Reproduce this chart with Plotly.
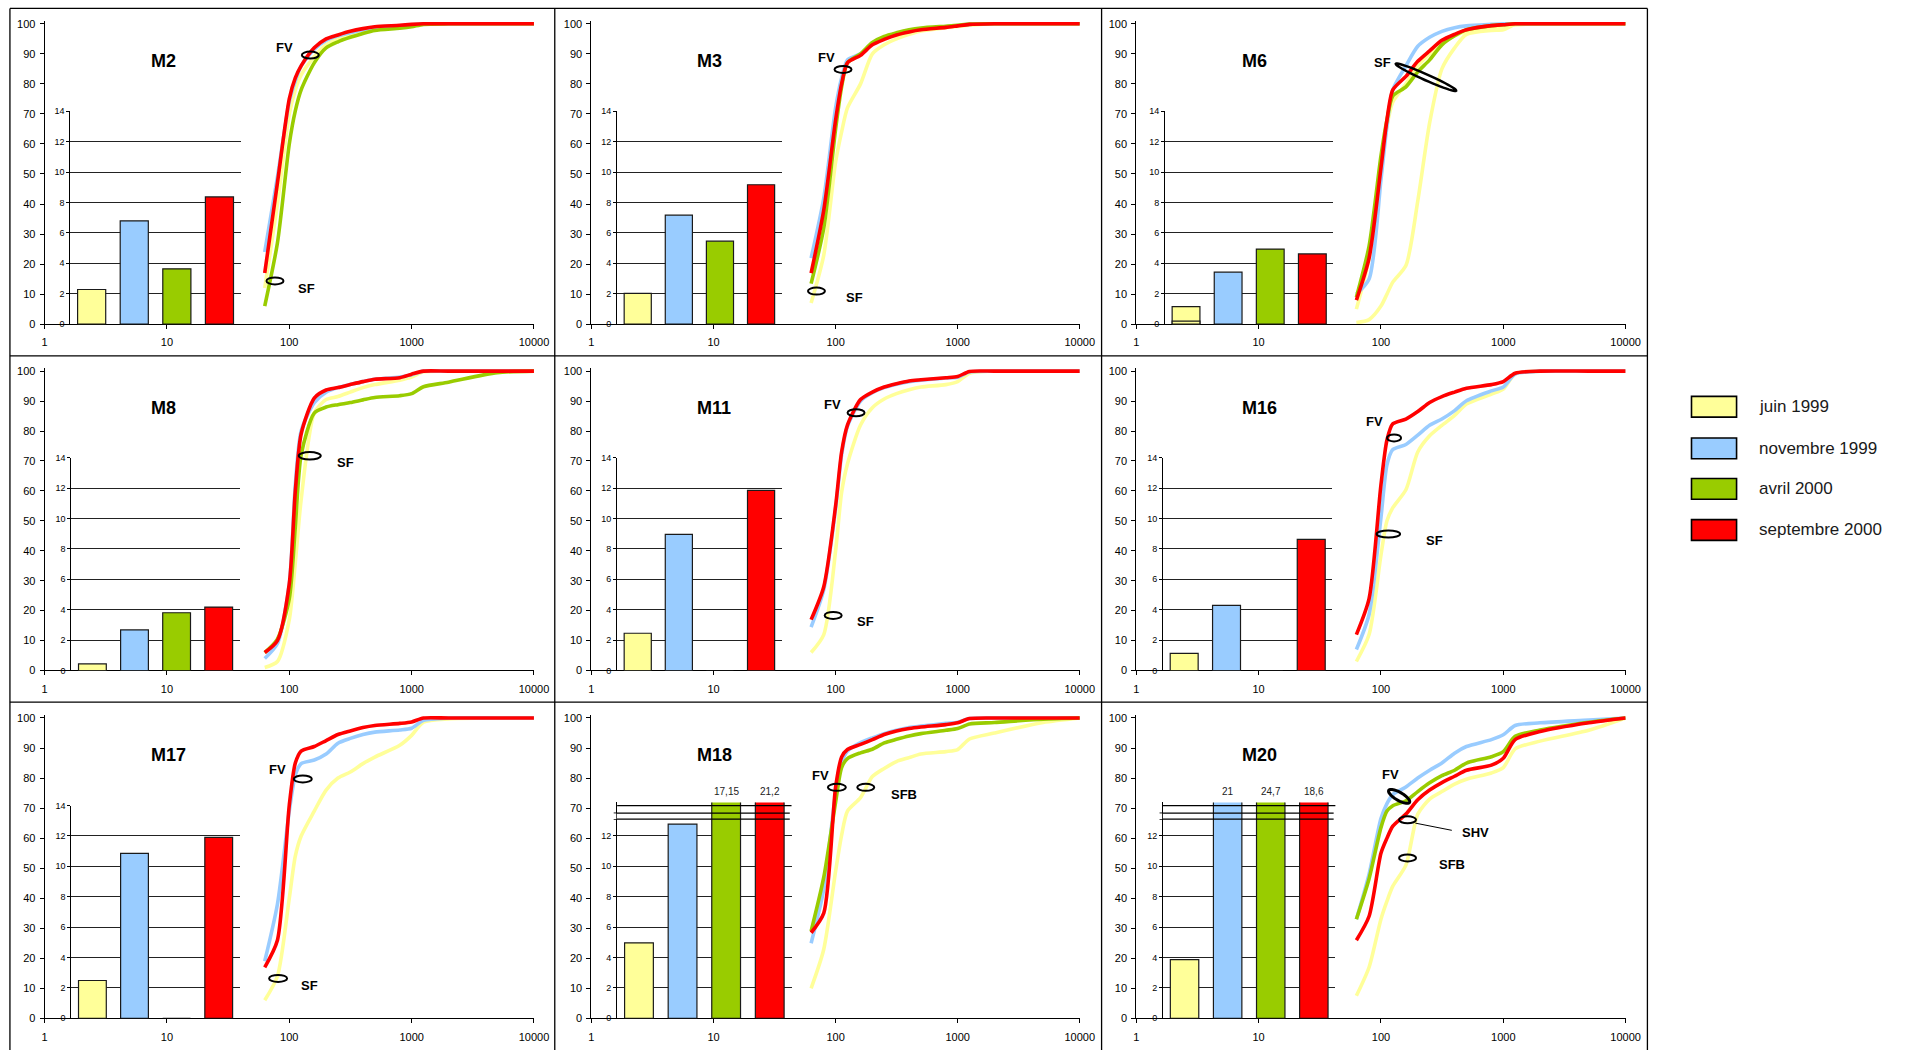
import math
import plotly.graph_objects as go

# geometry reference frame = the 1917x1056 page
W, H = 1917, 1056
FONT = "Liberation Sans, Arial, sans-serif"

# ---------------- data ----------------
SIZES = [63, 80, 100, 112, 125, 160, 200, 250, 315, 400, 500, 800, 1000, 1250, 2000, 5000, 10000]
SERIES = ["juin 1999", "novembre 1999", "avril 2000", "septembre 2000"]
COLORS = ["#FFFF99", "#99CCFF", "#99CC00", "#FF0000"]
X_TICKS = [1, 10, 100, 1000, 10000]
X_TICKTEXT = ["1", "10", "100", "1000", "10000"]
Y_TICKS = [0, 10, 20, 30, 40, 50, 60, 70, 80, 90, 100]
INSET_TICKS = [0, 2, 4, 6, 8, 10, 12, 14]
INSET_TICKS_BROKEN = [0, 2, 4, 6, 8, 10, 12]

# cumulative curves (% passing) at SIZES
M2_juin = [12, 40, 70, 78, 83, 89, 93, 95, 96.5, 97.5, 98.3, 99, 99.5, 100, 100, 100, 100]
M2_nov = [24, 49, 74, 81, 86, 91.5, 94.5, 96, 97, 98, 98.8, 99.3, 99.6, 100, 100, 100, 100]
M2_avr = [6, 27, 60, 71, 78, 87, 92, 94, 95.5, 96.8, 97.8, 98.5, 99, 99.8, 100, 100, 100]
M2_sep = [17, 47, 75, 82, 86, 92, 95, 96.3, 97.5, 98.4, 99, 99.5, 99.8, 100, 100, 100, 100]

M3_juin = [7, 23, 54, 64, 72, 80, 90, 93, 95, 96.5, 97.6, 98.7, 99.1, 99.5, 100, 100, 100]
M3_nov = [22, 42, 72, 82, 88, 90, 93.5, 95.3, 96.6, 97.5, 98.2, 99, 99.4, 99.8, 100, 100, 100]
M3_avr = [13.5, 32, 65, 79, 87, 90, 93.8, 95.8, 97, 98, 98.6, 99.2, 99.5, 99.9, 100, 100, 100]
M3_sep = [17, 38, 68, 80, 87, 89.5, 93, 94.8, 96.3, 97.3, 98, 98.8, 99.3, 99.8, 100, 100, 100]

M6_juin = [5, 22, 52, 66, 74, 80, 86, 90, 93.5, 96, 97.5, 98.5, 99, 99.7, 100, 100, 100]
M6_juin_b = [0.5, 1.5, 6, 10, 14, 19.5, 41, 67, 85, 92, 96.5, 97.8, 98, 99.8, 100, 100, 100]
M6_nov = [10, 15, 48, 66, 78, 86, 92.5, 95.5, 97.5, 98.7, 99.3, 99.8, 100, 100, 100, 100, 100]
M6_avr = [9, 26, 56, 68, 76, 79, 84, 88, 93, 96, 98, 99.4, 99.7, 100, 100, 100, 100]
M6_sep = [8, 22, 52, 68, 78, 82.5, 87.5, 91, 94.5, 96.5, 98, 99.4, 99.7, 100, 100, 100, 100]

M8_juin = [1, 3, 17, 36, 57, 86, 90.5, 91.5, 93, 94.5, 95.5, 97, 98, 99.8, 100, 100, 100]
M8_nov = [4, 9, 29, 62, 80, 89.5, 93, 94.5, 95.5, 96.5, 97.3, 98, 98.8, 100, 100, 100, 100]
M8_avr = [6, 10.5, 24, 48, 72, 86, 88, 88.8, 89.5, 90.4, 91.2, 91.8, 92.5, 94.8, 96.3, 99.5, 100]
M8_sep = [6, 10, 29, 60, 79, 91, 93.7, 94.5, 95.5, 96.5, 97.3, 97.8, 99, 100, 100, 100, 100]

M11_juin = [6, 12, 40, 59.5, 69, 82, 87.8, 90.7, 92.5, 93.8, 94.7, 95.5, 96.5, 99.3, 100, 100, 100]
M11_nov = [14.5, 27, 54, 72, 81.5, 90, 92.8, 94.5, 95.6, 96.5, 97, 97.7, 98, 99.7, 100, 100, 100]
M11_sep = [17, 28, 55, 73, 82, 90.5, 93, 94.7, 95.8, 96.7, 97.1, 97.8, 98.2, 99.9, 100, 100, 100]

M16_juin = [3, 12, 38.5, 50, 54.4, 60.4, 73, 78.4, 81.9, 85.2, 89, 92.3, 94, 99.1, 100, 100, 100]
M16_nov = [7, 18.7, 51, 68.7, 73.8, 75.5, 78.6, 81.9, 84, 86.8, 90.1, 93.4, 94.7, 99, 100, 100, 100]
M16_sep = [12, 24, 62, 77, 82.4, 84, 86.5, 89.5, 91.5, 93, 94.3, 95.5, 96.5, 99.3, 100, 100, 100]

M17_juin = [6, 14, 40, 54, 60.7, 69, 76, 80, 82, 84.8, 87, 90.9, 94.2, 98.6, 99.7, 100, 100]
M17_nov = [19, 38, 69, 81, 84.8, 86, 88, 91.6, 93.2, 94.5, 95.3, 96, 96.6, 99.2, 100, 100, 100]
M17_sep = [17, 26, 71, 85, 89, 90.5, 92.5, 94.5, 95.7, 96.8, 97.5, 98.2, 98.7, 100, 100, 100, 100]

M18_juin = [10, 23, 49, 61, 69, 73.5, 80.5, 83.2, 85.5, 86.8, 88, 88.8, 89.5, 93, 95, 98.5, 100]
M18_nov = [25, 43, 75, 85, 89, 91.8, 93.4, 94.8, 95.9, 96.8, 97.3, 98.2, 98.6, 99.8, 100, 100, 100]
M18_avr = [29, 47, 72, 83.5, 86.5, 88.4, 89.6, 91.7, 92.9, 94, 94.8, 95.9, 96.5, 98, 98.5, 99.6, 100]
M18_sep = [28.5, 35, 77, 87, 89.5, 91.2, 92.8, 94.5, 95.7, 96.5, 97, 97.8, 98.4, 99.8, 100, 100, 100]

M20_juin = [7.5, 17, 33, 39, 44, 51, 68, 73, 75.5, 78, 79.6, 81.7, 83.5, 89.7, 92.3, 95.9, 100]
M20_nov = [33, 48, 66.5, 71.5, 74.5, 77, 80, 82.6, 85, 88.3, 90.5, 92.8, 94.4, 97.5, 98.4, 99.3, 100]
M20_avr = [33, 46.5, 63.5, 69, 70.8, 72.4, 75.5, 78.4, 80.8, 82.6, 85, 87.1, 88.8, 93.9, 96, 98.6, 100]
M20_sep = [26, 34, 55, 60, 64, 68, 72.8, 76, 78.5, 80.6, 82.6, 84.3, 86.6, 92.8, 95.5, 98.4, 100]

# inset bar values (juin, novembre, avril, septembre)
M2_bars = [2.28, 6.8, 3.64, 8.37]
M3_bars = [2.02, 7.17, 5.46, 9.17]
M6_bars = [1.15, 3.42, 4.94, 4.62]
M6_bars_b = [0.2]
M8_bars = [0.43, 2.67, 3.8, 4.17]
M11_bars = [2.45, 8.95, 0, 11.85]
M16_bars = [1.13, 4.29, 0, 8.63]
M17_bars = [2.49, 10.85, 0, 11.9]
M18_bars = [4.97, 12.78, 17.15, 21.2]
M20_bars = [3.86, 21, 24.7, 18.6]

# ---------------- layout geometry (page pixels) ----------------
COL_X1 = [42, 594, 1144]      # pixel of x = 1
COL_X4 = [536, 1087, 1638]    # pixel of x = 10000
ROW_Y100 = [19, 370, 720.5]   # pixel of y = 100
ROW_Y0 = [322.5, 672.5, 1024] # pixel of y = 0
IPPU = 15.36                  # inset pixels per unit


def fx(px):
    return min(max(px / W, 0.0), 1.0)


def fy(py):
    return min(max(1 - py / H, 0.0), 1.0)


PANELS = [
    dict(name="M2", row=0, col=0, curves=[M2_juin, M2_nov, M2_avr, M2_sep], bars=M2_bars,
         inset=(26, 198), broken=False,
         labels=[("FV", 91, 92.2), ("SF", 139, 12)],
         ellipses=[(148.6, 89.6, 17, 7, 0, 2), (76.4, 14.4, 17, 7, 0, 2)]),
    dict(name="M3", row=0, col=1, curves=[M3_juin, M3_nov, M3_avr, M3_sep], bars=M3_bars,
         inset=(26, 192), broken=False,
         labels=[("FV", 84.7, 88.8), ("SF", 143.5, 8.8)],
         ellipses=[(115, 84.8, 17, 7, 0, 2), (69.7, 11, 17, 7, 0, 2)]),
    dict(name="M6", row=0, col=2, curves=[M6_juin, M6_nov, M6_avr, M6_sep], bars=M6_bars,
         extra_curves=[(0, M6_juin_b)], extra_bars=[(0, M6_bars_b)],
         inset=(29, 199), broken=False,
         labels=[("SF", 103.7, 87)],
         ellipses=[(233.5, 82.2, 66, 6, -24, 2.5)]),
    dict(name="M8", row=1, col=0, curves=[M8_juin, M8_nov, M8_avr, M8_sep], bars=M8_bars,
         inset=(27, 197), broken=False,
         labels=[("SF", 287, 69.5)],
         ellipses=[(147, 71.7, 22, 7.5, 0, 2)]),
    dict(name="M11", row=1, col=1, curves=[M11_juin, M11_nov, None, M11_sep], bars=M11_bars,
         inset=(26, 192), broken=False,
         labels=[("FV", 94, 88.7), ("SF", 175, 16.3)],
         ellipses=[(147, 86.1, 17, 7, 0, 2), (95.5, 18.4, 17, 7, 0, 2)]),
    dict(name="M16", row=1, col=2, curves=[M16_juin, M16_nov, None, M16_sep], bars=M16_bars,
         inset=(27, 198), broken=False,
         labels=[("FV", 87.9, 83.3), ("SF", 272, 43.5)],
         ellipses=[(128, 77.7, 14, 7, 0, 2), (115, 45.6, 23.5, 7, 0, 2)]),
    dict(name="M17", row=2, col=0, curves=[M17_juin, M17_nov, None, M17_sep], bars=M17_bars,
         inset=(27, 197), broken=False,
         labels=[("FV", 80, 82.9), ("SF", 147, 11)],
         ellipses=[(129, 79.7, 18, 7, 0, 2), (81, 13.3, 18, 7, 0, 2)]),
    dict(name="M18", row=2, col=1, curves=[M18_juin, M18_nov, M18_avr, M18_sep], bars=M18_bars,
         inset=(26, 202), broken=True,
         labels=[("FV", 75.9, 80.7), ("SFB", 363, 74.4)],
         ellipses=[(102.4, 76.9, 18, 7, 0, 2), (176.6, 76.9, 17, 7, 0, 2)]),
    dict(name="M20", row=2, col=2, curves=[M20_juin, M20_nov, M20_avr, M20_sep], bars=M20_bars,
         inset=(27, 201), broken=True,
         labels=[("FV", 120.8, 81.2), ("SHV", 596, 61.8), ("SFB", 379, 51.2)],
         ellipses=[(140.8, 73.9, 24, 8, -30, 3), (165, 66.1, 17, 7, 0, 2), (165, 53.4, 17, 7, 0, 2)],
         leader=[(191, 65), (379.5, 62.6)]),
]


def axname(letter, k):
    return f"{letter}axis" if k == 1 else f"{letter}axis{k}"


def axref(letter, k):
    return letter if k == 1 else f"{letter}{k}"


def fmt(v):
    return f"{v:g}".replace(".", ",")


layout = dict(
    autosize=True, margin=dict(l=0, r=0, t=0, b=0, pad=0),
    paper_bgcolor="white", plot_bgcolor="rgba(0,0,0,0)",
    showlegend=False, barmode="overlay",
    font=dict(family=FONT, color="black"),
)
traces = []
shapes = []
annotations = []

for i, p in enumerate(PANELS):
    r, c = p["row"], p["col"]
    mx, ix = 2 * i + 1, 2 * i + 2
    X1, X4 = COL_X1[c], COL_X4[c]
    Y100, Y0 = ROW_Y100[r], ROW_Y0[r]
    ppu = (Y0 - Y100) / 100.0
    mxr, myr = axref("x", mx), axref("y", mx)
    ixr, iyr = axref("x", ix), axref("y", ix)

    layout[axname("x", mx)] = dict(
        type="log", range=[0, 4], domain=[fx(X1), fx(X4)], anchor=myr,
        tickvals=X_TICKS, ticktext=X_TICKTEXT, showline=True, linecolor="black", linewidth=1,
        ticks="outside", ticklen=4, tickcolor="black", showgrid=False, zeroline=False,
        tickfont=dict(size=11, color="black", family=FONT), ticklabelstandoff=4, fixedrange=True)
    layout[axname("y", mx)] = dict(
        range=[0, 101], domain=[fy(Y0), fy(Y100 - ppu)], anchor=mxr,
        tickvals=Y_TICKS, showline=True, linecolor="black", linewidth=1,
        ticks="outside", ticklen=4, tickcolor="black", showgrid=False, zeroline=False,
        tickfont=dict(size=11, color="black", family=FONT), ticklabelstandoff=2, fixedrange=True)

    a, b = p["inset"]
    top = 14.2 if p["broken"] else 14
    layout[axname("x", ix)] = dict(
        type="category", categoryorder="array", categoryarray=SERIES, range=[-0.5, 3.5],
        domain=[fx(X1 + a), fx(X1 + b)], anchor=iyr, visible=False, fixedrange=True)
    layout[axname("y", ix)] = dict(
        range=[0, top], domain=[fy(Y0), fy(Y0 - top * IPPU)], anchor=ixr,
        tickvals=INSET_TICKS_BROKEN if p["broken"] else INSET_TICKS,
        showgrid=True, gridcolor="#222222", gridwidth=1, showline=True, linecolor="black",
        linewidth=1, ticks="outside", ticklen=3, tickcolor="black", zeroline=False,
        tickfont=dict(size=9, color="black", family=FONT), fixedrange=True)

    # inset bars
    traces.append(go.Bar(x=SERIES, y=p["bars"], xaxis=ixr, yaxis=iyr, width=0.66,
                         marker=dict(color=COLORS, line=dict(color="#1a1a1a", width=1.2)),
                         hoverinfo="skip"))
    for sidx, vals in p.get("extra_bars", []):
        traces.append(go.Bar(x=[SERIES[sidx]], y=vals, xaxis=ixr, yaxis=iyr, width=0.66,
                             marker=dict(color=COLORS[sidx], line=dict(color="#1a1a1a", width=1.2)),
                             hoverinfo="skip"))

    # curves
    curve_list = list(p.get("extra_curves", []))
    for sidx, vals in enumerate(p["curves"]):
        if vals is not None:
            curve_list.append((sidx, vals))
    for sidx, vals in curve_list:
        traces.append(go.Scatter(x=SIZES, y=vals, xaxis=mxr, yaxis=myr, mode="lines",
                                 line=dict(color=COLORS[sidx], width=3.6, shape="spline", smoothing=0.7),
                                 name=SERIES[sidx], hoverinfo="skip"))

    # broken-axis decoration
    if p["broken"]:
        for yv, xa, xb in [(14, 0.0, 1.0), (13.5, -0.02, 0.99), (13.1, -0.02, 0.99)]:
            shapes.append(dict(type="line", xref=f"{ixr} domain", yref=iyr, x0=xa, x1=xb, y0=yv, y1=yv,
                               line=dict(color="black", width=1.2), layer="above"))
        shapes.append(dict(type="rect", xref=f"{ixr} domain", yref=iyr, x0=-0.03, x1=-0.005,
                           y0=13.12, y1=13.48, fillcolor="white", line=dict(width=0), layer="above"))
        for j, v in enumerate(p["bars"]):
            if v > top:
                annotations.append(dict(xref=ixr, yref=iyr, x=SERIES[j], y=top, yanchor="bottom",
                                        yshift=3, text=fmt(v), showarrow=False,
                                        font=dict(size=10, color="#222222", family=FONT)))

    # title
    annotations.append(dict(xref=f"{mxr} domain", yref=myr, x=0.2125, y=87.6, text=f"<b>{p['name']}</b>",
                            showarrow=False, font=dict(size=18, color="black", family=FONT)))
    # labels
    for t, xv, yv in p["labels"]:
        annotations.append(dict(xref=mxr, yref=myr, x=math.log10(xv), y=yv, text=f"<b>{t}</b>",
                                showarrow=False, font=dict(size=13, color="black", family=FONT)))
    # ellipses
    for xv, yv, w, h, ang, lw in p["ellipses"]:
        xa = math.log10(xv) / 4.0
        if ang == 0:
            shapes.append(dict(type="circle", xref=f"{mxr} domain", yref=myr,
                               xsizemode="pixel", ysizemode="pixel", xanchor=xa, yanchor=yv,
                               x0=-w / 2, x1=w / 2, y0=-h / 2, y1=h / 2,
                               line=dict(color="black", width=lw), layer="above"))
        else:
            th = math.radians(ang)
            pts = []
            for k in range(48):
                t = 2 * math.pi * k / 48
                ex, ey = w / 2 * math.cos(t), h / 2 * math.sin(t)
                pts.append((ex * math.cos(th) - ey * math.sin(th), ex * math.sin(th) + ey * math.cos(th)))
            path = "M " + " L ".join(f"{px:.2f},{py:.2f}" for px, py in pts) + " Z"
            shapes.append(dict(type="path", path=path, xref=f"{mxr} domain", yref=myr,
                               xsizemode="pixel", ysizemode="pixel", xanchor=xa, yanchor=yv,
                               line=dict(color="black", width=lw), layer="above"))
    if p.get("leader"):
        (xa0, ya0), (xa1, ya1) = p["leader"]
        shapes.append(dict(type="line", xref=f"{mxr} domain", yref=myr,
                           x0=math.log10(xa0) / 4, x1=math.log10(xa1) / 4, y0=ya0, y1=ya1,
                           line=dict(color="black", width=1)))

# panel frame lines
for xp in [7, 557, 1109, 1660]:
    shapes.append(dict(type="line", xref="paper", yref="paper", x0=fx(xp), x1=fx(xp),
                       y0=fy(3.5), y1=0, line=dict(color="black", width=1.3)))
for yp in [3.5, 354.5, 704.5]:
    shapes.append(dict(type="line", xref="paper", yref="paper", x0=fx(7), x1=fx(1660),
                       y0=fy(yp), y1=fy(yp), line=dict(color="black", width=1.3)))

# legend (drawn)
LEG_Y = [406, 448, 489, 530.5]
for sidx, yc in enumerate(LEG_Y):
    shapes.append(dict(type="rect", xref="paper", yref="paper", x0=fx(1704.5), x1=fx(1750),
                       y0=fy(yc + 10.5), y1=fy(yc - 10.5),
                       fillcolor=COLORS[sidx], line=dict(color="black", width=1.6)))
    annotations.append(dict(xref="paper", yref="paper", x=fx(1771), y=fy(yc), xanchor="left",
                            yanchor="middle", text=SERIES[sidx], showarrow=False,
                            font=dict(size=17, color="#1a1a1a", family=FONT)))

layout["shapes"] = shapes
layout["annotations"] = annotations

fig = go.Figure(data=traces, layout=layout)
# the plot div is pinned to the viewport so the page never scrolls or shifts
fig.write_html("out.html", config={"displayModeBar": False, "staticPlot": True},
               default_width="100vw",
               default_height="100vh; position:fixed; top:0px; left:0px; margin:0px")
